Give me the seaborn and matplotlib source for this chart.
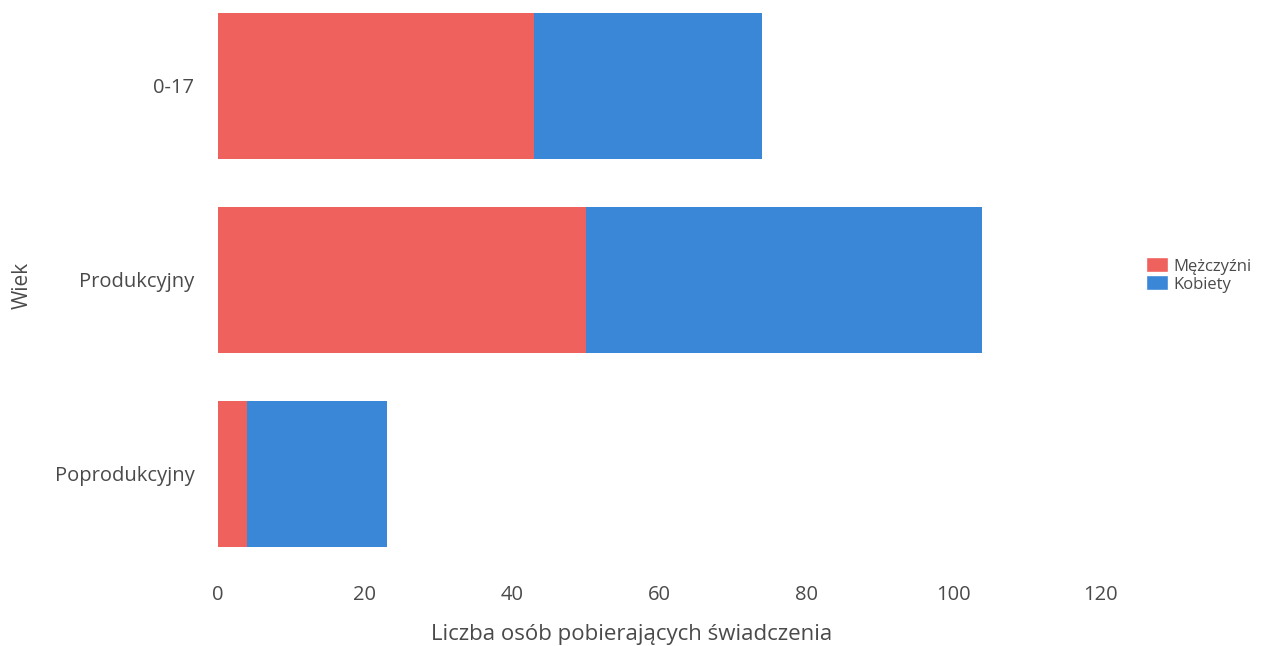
import pandas as pd
import matplotlib.pyplot as plt
import seaborn as sns
from matplotlib.patches import Patch

groups = ["0-17", "Produkcyjny", "Poprodukcyjny"]
men = [43, 50, 4]
women = [31, 54, 19]

red = "#EF615C"
blue = "#3B87D7"
txt = "#4a4a4a"

df = pd.DataFrame({"Wiek": groups, "Mężczyźni": men, "Kobiety": women})
df["Razem"] = df["Mężczyźni"] + df["Kobiety"]

sns.set_theme(style="white")
plt.rcParams["font.family"] = ["Open Sans", "DejaVu Sans"]

fig = plt.figure(figsize=(12.75, 6.46), dpi=100)
ax = fig.add_axes([218 / 1275, 1 - 570 / 646, (1100 - 218) / 1275, 570 / 646])

sns.barplot(data=df, y="Wiek", x="Razem", color=blue, orient="h", width=0.75,
            saturation=1, ax=ax)
sns.barplot(data=df, y="Wiek", x="Mężczyźni", color=red, orient="h", width=0.75,
            saturation=1, ax=ax)
for p in ax.patches:
    p.set_edgecolor("none")

ax.set_xlim(0, 120)
ax.set_ylim(2.495, -0.443)
ax.set_xticks(range(0, 121, 20))
sns.despine(ax=ax, left=True, bottom=True)
ax.tick_params(axis="both", length=0, labelsize=14.5, colors=txt)
ax.tick_params(axis="x", pad=11)
ax.tick_params(axis="y", pad=17)
ax.set_xlabel("Liczba osób pobierających świadczenia", fontsize=16, color=txt)
ax.xaxis.set_label_coords((632 - 218) / 882, -0.094)
ax.set_ylabel("Wiek", fontsize=15, color=txt, labelpad=16)

handles = [Patch(facecolor=red, label="Mężczyźni"), Patch(facecolor=blue, label="Kobiety")]
fig.legend(handles=handles, loc="center left", bbox_to_anchor=(1131 / 1275, 1 - 275 / 646),
           frameon=False, fontsize=12, handlelength=1.3, handleheight=1.0,
           handletextpad=0.35, labelspacing=0.05, labelcolor=txt)

fig.savefig("out.png", dpi=100)
